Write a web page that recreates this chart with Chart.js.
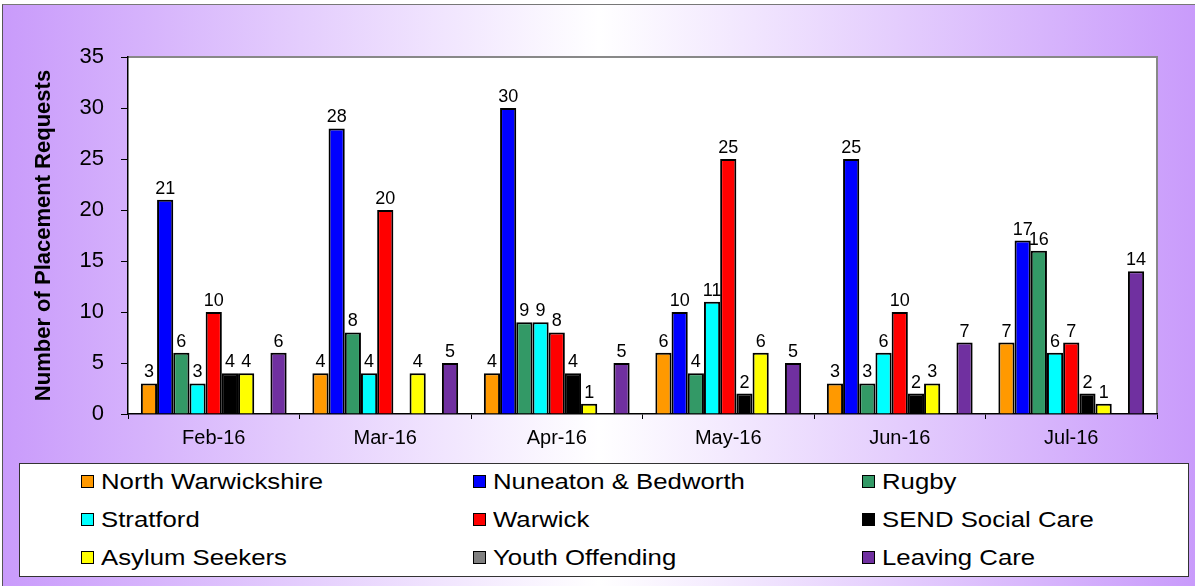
<!DOCTYPE html>
<html>
<head>
<meta charset="utf-8">
<script src="https://cdn.jsdelivr.net/npm/chart.js@4.4.1/dist/chart.umd.min.js"></script>
<style>
  html, body { margin: 0; padding: 0; background: #fff; }
  body { width: 1195px; height: 586px; position: relative; overflow: hidden; font-family: "Liberation Sans", Arial, sans-serif; }
  #frame { position: absolute; left: 2px; top: 4px; width: 1193px; height: 582px; box-sizing: border-box;
           border-left: 1.5px solid #555; border-top: 1.5px solid #777;
           background: linear-gradient(to right, #c99bfb 0%, #ffffff 50%, #c99bfb 100%); }
  #chart { position: absolute; left: 0; top: 0; }
  #legendBox { position: absolute; left: 19px; top: 463px; width: 1170px; height: 114px; box-sizing: border-box;
               border: 1.5px solid #333; background: #fff; }
  .mark { position: absolute; width: 13px; height: 13px; box-sizing: border-box; border: 1.5px solid #000; }
  .lab { position: absolute; font-size: 22px; line-height: 25px; color: #000; white-space: nowrap;
         transform: scaleX(1.17); transform-origin: left center; }
</style>
</head>
<body>
<div id="frame"></div>
<canvas id="chart" width="1195" height="462"></canvas>
<div id="legendBox"></div>
<script>
// months on the x axis
const months = ["Feb-16", "Mar-16", "Apr-16", "May-16", "Jun-16", "Jul-16"];

// placement requests by area (null = no bar)
const northWarwickshire = [3, 4, 4, 6, 3, 7];
const nuneatonBedworth = [21, 28, 30, 10, 25, 17];
const rugby = [6, 8, 9, 4, 3, 16];
const stratford = [3, 4, 9, 11, 6, 6];
const warwick = [10, 20, 8, 25, 10, 7];
const sendSocialCare = [4, null, 4, 2, 2, 2];
const asylumSeekers = [4, 4, 1, 6, 3, 1];
const youthOffending = [null, null, null, null, null, null];
const leavingCare = [6, 5, 5, 5, 7, 14];

const seriesNames = ["North Warwickshire", "Nuneaton & Bedworth", "Rugby", "Stratford", "Warwick",
  "SEND Social Care", "Asylum Seekers", "Youth Offending", "Leaving Care"];
const seriesValues = [northWarwickshire, nuneatonBedworth, rugby, stratford, warwick,
  sendSocialCare, asylumSeekers, youthOffending, leavingCare];
const seriesColors = ["#FF9900", "#0000FF", "#339966", "#00FFFF", "#FF0000",
  "#000000", "#FFFF00", "#808080", "#7030A0"];

const yTicks = [0, 5, 10, 15, 20, 25, 30, 35];

const FONT = "'Liberation Sans', Arial, sans-serif";

// white plot area with grey top/right border
const plotBg = {
  id: "plotBg",
  beforeDraw(chart) {
    const { ctx, chartArea: a } = chart;
    ctx.save();
    ctx.fillStyle = "#fff";
    ctx.fillRect(a.left, a.top, a.right - a.left, a.bottom - a.top);
    ctx.strokeStyle = "#888";
    ctx.lineWidth = 2;
    ctx.beginPath();
    ctx.moveTo(a.left, a.top);
    ctx.lineTo(a.right, a.top);
    ctx.lineTo(a.right, a.bottom);
    ctx.stroke();
    ctx.restore();
  }
};

// value labels on top of bars
const barLabels = {
  id: "barLabels",
  afterDatasetsDraw(chart) {
    const ctx = chart.ctx;
    ctx.save();
    ctx.font = "18px " + FONT;
    ctx.fillStyle = "#000";
    ctx.textAlign = "center";
    ctx.textBaseline = "alphabetic";
    chart.data.datasets.forEach((ds, i) => {
      const meta = chart.getDatasetMeta(i);
      meta.data.forEach((bar, j) => {
        const v = ds.data[j];
        if (v == null) return;
        ctx.fillText(String(v), bar.x, bar.y - 6);
      });
    });
    ctx.restore();
  }
};

new Chart(document.getElementById("chart"), {
  type: "bar",
  data: {
    labels: months,
    datasets: seriesNames.map((name, i) => ({
      label: name,
      data: seriesValues[i],
      backgroundColor: seriesColors[i],
      borderColor: "#000",
      borderWidth: 2,
      categoryPercentage: 0.85,
      barPercentage: 1.0
    }))
  },
  options: {
    responsive: false,
    animation: false,
    devicePixelRatio: 1,
    layout: { padding: { top: 57, right: 38, left: 0, bottom: 0 } },
    plugins: { legend: { display: false }, tooltip: { enabled: false } },
    scales: {
      x: {
        grid: { offset: true, drawOnChartArea: false, tickLength: 5, color: "#000", lineWidth: 1 },
        border: { color: "#000", width: 1.5 },
        ticks: { color: "#000", font: { family: FONT, size: 20 }, padding: 7, maxRotation: 0 },
        afterFit(s) { s.height = 48; }
      },
      y: {
        min: 0,
        max: 35,
        afterBuildTicks(s) { s.ticks = yTicks.map(v => ({ value: v })); },
        grid: { drawOnChartArea: false, tickLength: 7, color: "#000", lineWidth: 1 },
        border: { color: "#000", width: 1.5 },
        ticks: { color: "#000", font: { family: FONT, size: 22 }, padding: 17 },
        title: {
          display: true,
          text: "Number of Placement Requests",
          color: "#000",
          font: { family: FONT, size: 22, weight: "bold" },
          padding: { top: 31, bottom: 0 }
        },
        afterFit(s) { s.width = 128; }
      }
    }
  },
  plugins: [plotBg, barLabels]
});

// legend in three columns, below the chart
const colX = [81, 473, 862];
const rowBase = [489, 527, 565];
seriesNames.forEach((name, i) => {
  const c = i % 3, r = Math.floor(i / 3);
  const m = document.createElement("div");
  m.className = "mark";
  m.style.left = colX[c] + "px";
  m.style.top = (rowBase[r] - 14) + "px";
  m.style.background = seriesColors[i];
  document.body.appendChild(m);
  const t = document.createElement("div");
  t.className = "lab";
  t.textContent = name;
  t.style.left = (colX[c] + 20) + "px";
  t.style.top = (rowBase[r] - 20) + "px";
  document.body.appendChild(t);
});
</script>
</body>
</html>
